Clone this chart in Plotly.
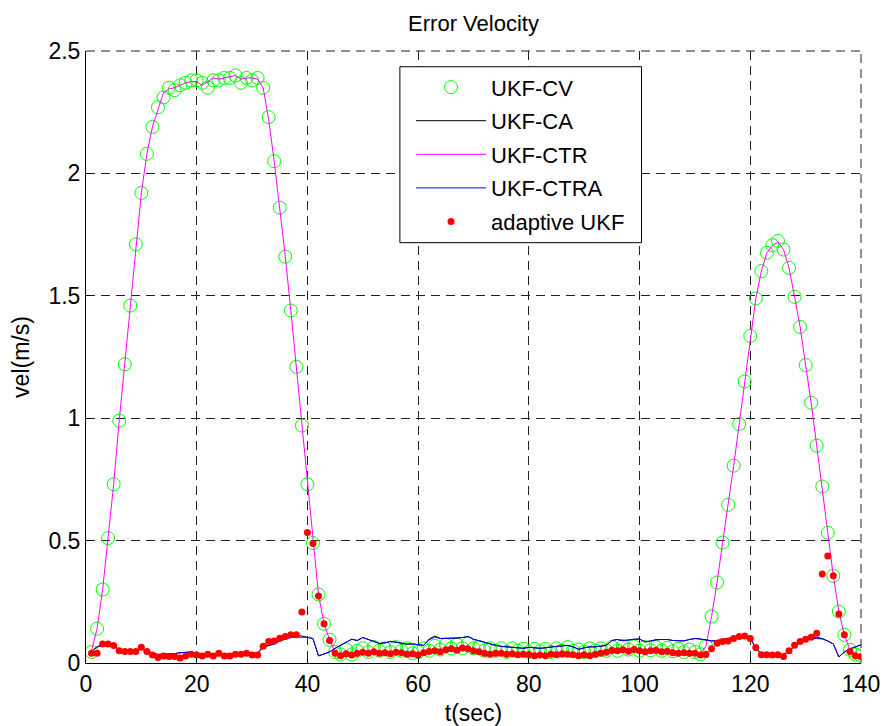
import plotly.graph_objects as go

t = list(range(1, 141))

ukf_cv = [
    0.045, 0.14, 0.30, 0.51, 0.73, 0.99, 1.22, 1.46, 1.71, 1.92,
    2.08, 2.19, 2.27, 2.31, 2.35, 2.34, 2.36, 2.37, 2.38, 2.38,
    2.37, 2.35, 2.38, 2.38, 2.39, 2.39, 2.40, 2.37, 2.39, 2.38,
    2.39, 2.35, 2.23, 2.05, 1.86, 1.66, 1.44, 1.21, 0.97, 0.73,
    0.49, 0.28, 0.16, 0.095, 0.045, 0.035, 0.055, 0.035, 0.05, 0.06,
    0.045, 0.065, 0.05, 0.06, 0.045, 0.065, 0.05, 0.06, 0.04, 0.045,
    0.06, 0.05, 0.07, 0.055, 0.075, 0.06, 0.075, 0.06, 0.08, 0.06,
    0.065, 0.05, 0.06, 0.05, 0.06, 0.045, 0.06, 0.05, 0.058, 0.045,
    0.058, 0.048, 0.058, 0.045, 0.06, 0.05, 0.065, 0.05, 0.055, 0.045,
    0.06, 0.05, 0.06, 0.05, 0.065, 0.05, 0.07, 0.055, 0.068, 0.05,
    0.065, 0.052, 0.065, 0.05, 0.062, 0.048, 0.058, 0.045, 0.055, 0.045,
    0.036, 0.07, 0.19, 0.329, 0.492, 0.646, 0.806, 0.976, 1.150, 1.336,
    1.489, 1.601, 1.676, 1.707, 1.724, 1.689, 1.614, 1.496, 1.373, 1.217,
    1.063, 0.888, 0.721, 0.532, 0.356, 0.21, 0.115, 0.054, 0.035, 0.03,
]

ukf_ca = [
    0.045, 0.068, 0.07, 0.075, 0.07, 0.055, 0.05, 0.05, 0.05, 0.06,
    0.05, 0.04, 0.035, 0.035, 0.035, 0.038, 0.042, 0.045, 0.045, 0.04,
    0.038, 0.04, 0.036, 0.04, 0.036, 0.036, 0.038, 0.04, 0.042, 0.04,
    0.04, 0.065, 0.072, 0.078, 0.09, 0.098, 0.113, 0.115, 0.11, 0.105,
    0.10, 0.029, 0.037, 0.045, 0.06, 0.071, 0.085, 0.097, 0.092, 0.104,
    0.095, 0.088, 0.08, 0.082, 0.088, 0.085, 0.082, 0.077, 0.078, 0.074,
    0.072, 0.098, 0.11, 0.1, 0.1, 0.1, 0.102, 0.104, 0.108, 0.097,
    0.09, 0.084, 0.078, 0.072, 0.068, 0.065, 0.062, 0.062, 0.06, 0.064,
    0.062, 0.06, 0.062, 0.066, 0.068, 0.07, 0.072, 0.066, 0.056, 0.062,
    0.066, 0.066, 0.068, 0.072, 0.092, 0.096, 0.091, 0.095, 0.097, 0.098,
    0.086, 0.09, 0.095, 0.096, 0.096, 0.092, 0.09, 0.09, 0.096, 0.10,
    0.098, 0.094, 0.09, 0.092, 0.095, 0.10, 0.105, 0.108, 0.108, 0.10,
    0.062, 0.036, 0.036, 0.035, 0.035, 0.034, 0.05, 0.07, 0.086, 0.095,
    0.104, 0.105, 0.10, 0.09, 0.078, 0.025, 0.045, 0.058, 0.066, 0.074,
]

ukf_ctr = [
    0.05, 0.14, 0.30, 0.51, 0.73, 0.99, 1.22, 1.46, 1.71, 1.92,
    2.08, 2.19, 2.26, 2.33, 2.345, 2.35, 2.36, 2.37, 2.375, 2.375,
    2.36, 2.375, 2.39, 2.385, 2.39, 2.395, 2.40, 2.385, 2.39, 2.39,
    2.385, 2.35, 2.22, 2.05, 1.86, 1.66, 1.44, 1.21, 0.97, 0.73,
    0.49, 0.28, 0.16, 0.095, 0.045, 0.035, 0.042, 0.038, 0.044, 0.048,
    0.044, 0.05, 0.044, 0.046, 0.042, 0.048, 0.046, 0.04, 0.042, 0.038,
    0.046, 0.05, 0.054, 0.05, 0.058, 0.062, 0.056, 0.064, 0.062, 0.054,
    0.05, 0.044, 0.04, 0.044, 0.044, 0.04, 0.042, 0.038, 0.04, 0.039,
    0.034, 0.037, 0.034, 0.04, 0.038, 0.042, 0.04, 0.038, 0.034, 0.038,
    0.034, 0.04, 0.044, 0.048, 0.056, 0.054, 0.058, 0.052, 0.059, 0.054,
    0.05, 0.054, 0.056, 0.05, 0.052, 0.046, 0.044, 0.046, 0.044, 0.044,
    0.035, 0.07, 0.19, 0.329, 0.492, 0.646, 0.806, 0.976, 1.150, 1.336,
    1.489, 1.601, 1.676, 1.705, 1.72, 1.689, 1.614, 1.496, 1.373, 1.217,
    1.063, 0.888, 0.721, 0.532, 0.356, 0.21, 0.115, 0.054, 0.035, 0.03,
]

ukf_ctra = [
    0.045, 0.065, 0.07, 0.075, 0.07, 0.055, 0.05, 0.05, 0.05, 0.06,
    0.05, 0.04, 0.035, 0.035, 0.035, 0.038, 0.042, 0.045, 0.045, 0.04,
    0.038, 0.04, 0.036, 0.04, 0.036, 0.036, 0.038, 0.04, 0.042, 0.04,
    0.04, 0.065, 0.072, 0.078, 0.09, 0.098, 0.104, 0.106, 0.106, 0.105,
    0.10, 0.029, 0.037, 0.045, 0.06, 0.071, 0.085, 0.097, 0.092, 0.104,
    0.095, 0.088, 0.08, 0.082, 0.088, 0.085, 0.082, 0.077, 0.078, 0.074,
    0.072, 0.095, 0.106, 0.1, 0.1, 0.1, 0.102, 0.104, 0.108, 0.097,
    0.09, 0.084, 0.078, 0.072, 0.068, 0.065, 0.062, 0.062, 0.06, 0.064,
    0.062, 0.06, 0.062, 0.066, 0.068, 0.07, 0.072, 0.066, 0.056, 0.062,
    0.066, 0.066, 0.068, 0.072, 0.092, 0.096, 0.091, 0.095, 0.097, 0.098,
    0.086, 0.09, 0.095, 0.096, 0.096, 0.092, 0.09, 0.09, 0.096, 0.10,
    0.098, 0.094, 0.09, 0.092, 0.095, 0.10, 0.105, 0.108, 0.108, 0.10,
    0.062, 0.036, 0.036, 0.035, 0.035, 0.034, 0.05, 0.07, 0.086, 0.095,
    0.10, 0.10, 0.098, 0.09, 0.078, 0.025, 0.045, 0.058, 0.066, 0.074,
]

adaptive_ukf = [
    0.040, 0.040, 0.078, 0.078, 0.071, 0.050, 0.047, 0.047, 0.047, 0.064,
    0.047, 0.033, 0.022, 0.029, 0.027, 0.027, 0.020, 0.029, 0.036, 0.033,
    0.029, 0.036, 0.029, 0.040, 0.029, 0.029, 0.036, 0.036, 0.040, 0.033,
    0.033, 0.068, 0.088, 0.090, 0.101, 0.108, 0.115, 0.115, 0.208, 0.533,
    0.488, 0.274, 0.160, 0.092, 0.040, 0.030, 0.038, 0.033, 0.040, 0.044,
    0.040, 0.046, 0.040, 0.042, 0.038, 0.044, 0.042, 0.036, 0.038, 0.033,
    0.042, 0.047, 0.050, 0.046, 0.054, 0.058, 0.052, 0.061, 0.058, 0.050,
    0.046, 0.040, 0.036, 0.040, 0.040, 0.036, 0.038, 0.034, 0.036, 0.035,
    0.030, 0.033, 0.030, 0.036, 0.034, 0.038, 0.036, 0.034, 0.030, 0.034,
    0.030, 0.036, 0.040, 0.044, 0.052, 0.050, 0.054, 0.048, 0.055, 0.050,
    0.046, 0.050, 0.052, 0.046, 0.048, 0.042, 0.040, 0.042, 0.040, 0.040,
    0.033, 0.035, 0.058, 0.081, 0.088, 0.090, 0.100, 0.108, 0.110, 0.100,
    0.063, 0.034, 0.034, 0.033, 0.034, 0.027, 0.050, 0.072, 0.088, 0.097,
    0.105, 0.122, 0.364, 0.437, 0.356, 0.200, 0.115, 0.047, 0.030, 0.027,
]

x_ticks = [0, 20, 40, 60, 80, 100, 120, 140]
y_ticks = [0, 0.5, 1, 1.5, 2, 2.5]

FONT = "Liberation Sans, Arial, Helvetica, sans-serif"
GRID_DASH = "9px,6px"

fig = go.Figure()
fig.add_trace(go.Scatter(
    x=t, y=ukf_cv, mode="markers", name="UKF-CV", legendgroup="a",
    marker=dict(symbol="circle-open", size=13, color="#00ff00", line=dict(width=1, color="#00ff00")),
))
fig.add_trace(go.Scatter(
    x=t, y=ukf_ca, mode="lines", name="UKF-CA", legendgroup="b",
    line=dict(color="#000000", width=1),
))
fig.add_trace(go.Scatter(
    x=t, y=ukf_ctr, mode="lines", name="UKF-CTR", legendgroup="c",
    line=dict(color="#ff00ff", width=1),
))
fig.add_trace(go.Scatter(
    x=t, y=ukf_ctra, mode="lines", name="UKF-CTRA", legendgroup="d",
    line=dict(color="#0000ff", width=1),
))
fig.add_trace(go.Scatter(
    x=t, y=adaptive_ukf, mode="markers", name="adaptive UKF", legendgroup="e",
    marker=dict(symbol="circle", size=7, color="#ff0000"),
))

axis_common = dict(
    showgrid=True, gridcolor="#222222", gridwidth=1, griddash=GRID_DASH,
    showline=True, linecolor="#000000", linewidth=1, mirror=False,
    ticks="inside", ticklen=5, tickcolor="#000000", zeroline=False,
    tickfont=dict(family=FONT, size=23, color="#000000"), automargin=False,
)

fig.update_layout(
    width=883, height=726,
    margin=dict(l=86, r=22, t=51, b=63),
    paper_bgcolor="white", plot_bgcolor="white",
    font=dict(family=FONT, size=22, color="#000000"),
    title=dict(text="Error Velocity", x=0.5, xref="paper", y=1 - 23 / 726, yref="container",
               yanchor="middle", xanchor="center", font=dict(family=FONT, size=22, color="#000000")),
    xaxis=dict(range=[0, 140], tickvals=x_ticks,
               title=dict(text="t(sec)", standoff=13, font=dict(family=FONT, size=23)), **axis_common),
    yaxis=dict(range=[0, 2.5], tickvals=y_ticks,
               title=dict(text="vel(m/s)", standoff=12, font=dict(family=FONT, size=23)), **axis_common),
    showlegend=True,
    legend=dict(
        x=0.4194, y=0.975, xanchor="left", yanchor="top",
        bgcolor="rgba(0,0,0,0)", borderwidth=0,
        font=dict(family=FONT, size=22, color="#000000"),
        itemwidth=70, tracegroupgap=2, traceorder="grouped",
    ),
    shapes=[
        dict(type="line", xref="paper", yref="paper", x0=1, x1=1, y0=0, y1=1,
             line=dict(color="#222222", width=1, dash=GRID_DASH), layer="below"),
        dict(type="line", xref="paper", yref="paper", x0=0, x1=1, y0=1, y1=1,
             line=dict(color="#222222", width=1, dash=GRID_DASH), layer="below"),
        dict(type="rect", xref="paper", yref="paper",
             x0=0.405, x1=0.7168, y0=0.6868, y1=0.9743,
             fillcolor="white", line=dict(color="#000000", width=1), layer="above"),
    ],
)

fig.write_html(
    "out.html",
    config={"displayModeBar": False},
    post_script="document.body.style.margin='0';document.body.style.overflow='hidden';",
)
